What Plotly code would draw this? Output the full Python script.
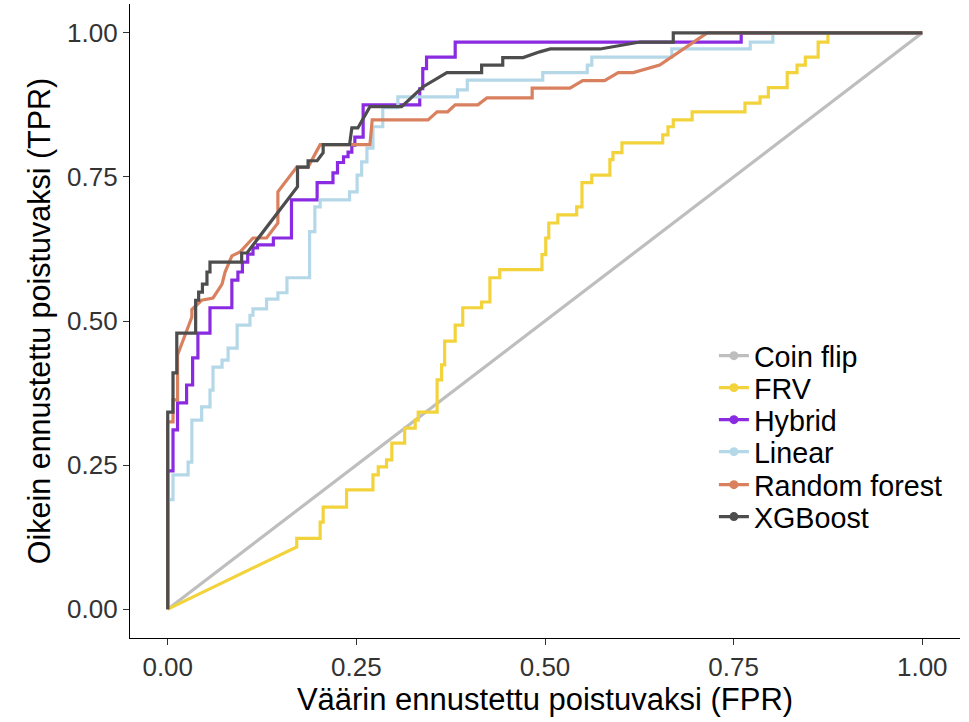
import plotly.graph_objects as go

# ---------------- data ----------------
series_names = ["Coin flip", "FRV", "Hybrid", "Linear", "Random forest", "XGBoost"]
series_colors = ["#BEBEBE", "#F3D33B", "#8A2BE2", "#B5D8E8", "#D9805F", "#4D4D4D"]

coin_fpr = [0.0, 1.0]
coin_tpr = [0.0, 1.0]

frv_fpr = [0.0, 0.171, 0.171, 0.202, 0.202, 0.206, 0.206, 0.237, 0.237, 0.272, 0.272, 0.279, 0.279,
           0.290, 0.290, 0.297, 0.297, 0.314, 0.314, 0.328, 0.328, 0.332, 0.332, 0.357, 0.357, 0.363,
           0.363, 0.367, 0.367, 0.381, 0.381, 0.391, 0.391, 0.416, 0.416, 0.427, 0.427, 0.440, 0.440,
           0.496, 0.496, 0.501, 0.501, 0.505, 0.505, 0.517, 0.517, 0.542, 0.542, 0.549, 0.549, 0.562,
           0.562, 0.586, 0.586, 0.590, 0.590, 0.602, 0.602, 0.656, 0.656, 0.663, 0.663, 0.670, 0.670,
           0.695, 0.695, 0.765, 0.765, 0.785, 0.785, 0.796, 0.796, 0.821, 0.821, 0.834, 0.834, 0.845,
           0.845, 0.862, 0.862, 0.875, 0.875, 1.0]
frv_tpr = [0.0, 0.108, 0.123, 0.123, 0.151, 0.151, 0.177, 0.177, 0.207, 0.207, 0.233, 0.233, 0.247,
           0.247, 0.259, 0.259, 0.288, 0.288, 0.314, 0.314, 0.328, 0.328, 0.342, 0.342, 0.398, 0.398,
           0.424, 0.424, 0.465, 0.465, 0.493, 0.493, 0.523, 0.523, 0.533, 0.533, 0.575, 0.575, 0.589,
           0.589, 0.615, 0.615, 0.644, 0.644, 0.670, 0.670, 0.684, 0.684, 0.698, 0.698, 0.740, 0.740,
           0.753, 0.753, 0.780, 0.780, 0.792, 0.792, 0.809, 0.809, 0.823, 0.823, 0.837, 0.837, 0.849,
           0.849, 0.863, 0.863, 0.878, 0.878, 0.889, 0.889, 0.905, 0.905, 0.931, 0.931, 0.944, 0.944,
           0.958, 0.958, 0.984, 0.984, 1.0, 1.0]

hybrid_fpr = [0.0, 0.0, 0.007, 0.007, 0.013, 0.013, 0.025, 0.025, 0.033, 0.033,
              0.040, 0.040, 0.056, 0.056, 0.085, 0.085, 0.093, 0.093, 0.099, 0.099,
              0.106, 0.106, 0.113, 0.113, 0.119, 0.119, 0.140, 0.140, 0.164, 0.164,
              0.198, 0.198, 0.219, 0.219, 0.225, 0.225, 0.233, 0.233, 0.239, 0.239,
              0.244, 0.244, 0.248, 0.248, 0.259, 0.259, 0.334, 0.334, 0.338, 0.338,
              0.343, 0.343, 0.381, 0.381, 0.760, 0.760, 1.0]
hybrid_tpr = [0.0, 0.240, 0.240, 0.311, 0.311, 0.358, 0.358, 0.389, 0.389, 0.436,
              0.436, 0.479, 0.479, 0.523, 0.523, 0.571, 0.571, 0.585, 0.585, 0.602,
              0.602, 0.616, 0.616, 0.627, 0.627, 0.632, 0.632, 0.644, 0.644, 0.710,
              0.710, 0.740, 0.740, 0.757, 0.757, 0.775, 0.775, 0.785, 0.785, 0.793,
              0.793, 0.805, 0.805, 0.819, 0.819, 0.875, 0.875, 0.903, 0.903, 0.938,
              0.938, 0.958, 0.958, 0.984, 0.984, 1.0, 1.0]

linear_fpr = [0.0, 0.0, 0.007, 0.007, 0.027, 0.027, 0.032, 0.032, 0.045, 0.045, 0.056, 0.056, 0.060,
              0.060, 0.072, 0.072, 0.080, 0.080, 0.092, 0.092, 0.109, 0.109, 0.113, 0.113, 0.131, 0.131,
              0.146, 0.146, 0.158, 0.158, 0.188, 0.188, 0.195, 0.195, 0.202, 0.202, 0.241, 0.241, 0.251,
              0.251, 0.257, 0.257, 0.264, 0.264, 0.272, 0.272, 0.285, 0.285, 0.305, 0.305, 0.384, 0.384,
              0.397, 0.397, 0.497, 0.497, 0.556, 0.556, 0.562, 0.562, 0.668, 0.668, 0.772, 0.772, 0.802,
              0.802, 1.0]
linear_tpr = [0.0, 0.190, 0.190, 0.233, 0.233, 0.255, 0.255, 0.328, 0.328, 0.351, 0.351, 0.380, 0.380,
              0.420, 0.420, 0.432, 0.432, 0.453, 0.453, 0.493, 0.493, 0.510, 0.510, 0.521, 0.521, 0.538,
              0.538, 0.549, 0.549, 0.575, 0.575, 0.655, 0.655, 0.698, 0.698, 0.710, 0.710, 0.724, 0.724,
              0.753, 0.753, 0.776, 0.776, 0.800, 0.800, 0.837, 0.837, 0.870, 0.870, 0.889, 0.889, 0.901,
              0.901, 0.918, 0.918, 0.931, 0.931, 0.944, 0.944, 0.958, 0.958, 0.972, 0.972, 0.984, 0.984,
              1.0, 1.0]

rf_fpr = [0.0, 0.0, 0.007, 0.007, 0.013, 0.013, 0.032, 0.032, 0.045, 0.060, 0.066, 0.072, 0.076, 0.085,
          0.096, 0.113, 0.131, 0.146, 0.146, 0.171, 0.186, 0.202, 0.268, 0.271, 0.345, 0.357, 0.371,
          0.381, 0.411, 0.423, 0.483, 0.483, 0.533, 0.550, 0.579, 0.597, 0.617, 0.652, 0.715, 1.0]
rf_tpr = [0.0, 0.325, 0.325, 0.363, 0.363, 0.441, 0.507, 0.520, 0.536, 0.540, 0.552, 0.564, 0.585, 0.613,
          0.620, 0.644, 0.644, 0.670, 0.724, 0.767, 0.767, 0.806, 0.806, 0.849, 0.849, 0.863, 0.863,
          0.875, 0.875, 0.887, 0.887, 0.904, 0.904, 0.917, 0.917, 0.931, 0.931, 0.944, 1.0, 1.0]

xgb_fpr = [0.0, 0.0, 0.007, 0.007, 0.012, 0.012, 0.037, 0.037, 0.041, 0.041, 0.046, 0.046, 0.052, 0.052,
           0.056, 0.056, 0.098, 0.098, 0.105, 0.172, 0.172, 0.186, 0.186, 0.198, 0.206, 0.206, 0.241,
           0.244, 0.252, 0.268, 0.310, 0.338, 0.370, 0.416, 0.416, 0.444, 0.444, 0.471, 0.493, 0.507,
           0.573, 0.626, 0.670, 0.670, 1.0]
xgb_tpr = [0.0, 0.342, 0.342, 0.410, 0.410, 0.479, 0.479, 0.536, 0.536, 0.550, 0.550, 0.564, 0.564, 0.585,
           0.585, 0.602, 0.602, 0.618, 0.618, 0.733, 0.767, 0.767, 0.778, 0.778, 0.792, 0.806, 0.806,
           0.835, 0.835, 0.872, 0.872, 0.906, 0.931, 0.931, 0.944, 0.944, 0.957, 0.957, 0.967, 0.972,
           0.972, 0.984, 0.984, 1.0, 1.0]

tick_vals = [0.0, 0.25, 0.5, 0.75, 1.0]
tick_text = ["0.00", "0.25", "0.50", "0.75", "1.00"]
x_title = "Väärin ennustettu poistuvaksi (FPR)"
y_title = "Oikein ennustettu poistuvaksi (TPR)"

curves = [(coin_fpr, coin_tpr), (frv_fpr, frv_tpr), (hybrid_fpr, hybrid_tpr),
          (linear_fpr, linear_tpr), (rf_fpr, rf_tpr), (xgb_fpr, xgb_tpr)]

FONT = "Liberation Sans, Arial, Helvetica, sans-serif"

fig = go.Figure()
for name, color, (fx, ty) in zip(series_names, series_colors, curves):
    fig.add_trace(go.Scatter(x=fx, y=ty, mode="lines", name=name, showlegend=False,
                             line=dict(color=color, width=3.2), hoverinfo="x+y+name"))

# legend entries (one legend box per entry so spacing can follow the reference)
legend_keys = ["legend", "legend2", "legend3", "legend4", "legend5", "legend6"]
legend_y = [0.4448, 0.3943, 0.3438, 0.2934, 0.2413, 0.1909]
layout_legends = {}
for i, (name, color) in enumerate(zip(series_names, series_colors)):
    fig.add_trace(go.Scatter(x=[None], y=[None], mode="lines+markers", name=name,
                             line=dict(color=color, width=3.2), marker=dict(color=color, size=9),
                             legend=legend_keys[i], showlegend=True))
    layout_legends[legend_keys[i]] = dict(
        x=0.7035, xanchor="left", y=legend_y[i], yanchor="middle",
        bgcolor="rgba(0,0,0,0)", borderwidth=0, itemwidth=30,
        font=dict(family=FONT, size=28.7, color="black"))

axis_common = dict(
    showgrid=False, zeroline=False, showline=True, linecolor="black", linewidth=1.3,
    ticks="outside", ticklen=6, tickwidth=1.3, tickcolor="#333333",
    tickvals=tick_vals, ticktext=tick_text,
    tickfont=dict(family=FONT, size=26, color="#333333"),
)

fig.update_layout(
    width=969, height=722,
    margin=dict(l=130, r=9, t=4, b=84),
    paper_bgcolor="white", plot_bgcolor="white",
    xaxis=dict(range=[-0.05, 1.05], title=dict(text=x_title, standoff=4,
               font=dict(family=FONT, size=31, color="black")), **axis_common),
    yaxis=dict(range=[-0.05, 1.05], title=dict(text=y_title, standoff=7,
               font=dict(family=FONT, size=30.5, color="black")), **axis_common),
    **layout_legends,
)

fig.write_html("out.html")
